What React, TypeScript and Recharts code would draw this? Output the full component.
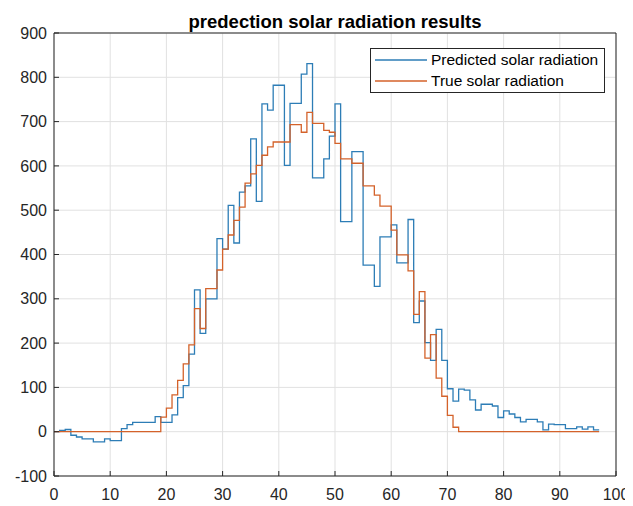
import { LineChart, Line, XAxis, YAxis, CartesianGrid, Legend } from 'recharts';

// hourly slots (index = slot number)
const predicted = [
  0, 3, 5, -8, -12, -16, -16, -23, -23, -16,
  -20, -20, 7, 16, 21, 21, 21, 21, 34, 21,
  21, 38, 77, 104, 175, 320, 222, 300, 300, 436,
  412, 511, 426, 541, 555, 661, 520, 740, 726, 782,
  782, 601, 741, 741, 807, 831, 573, 573, 616, 667,
  740, 474, 474, 632, 632, 376, 376, 328, 440, 440,
  467, 381, 381, 479, 246, 295, 201, 161, 231, 161,
  97, 69, 96, 94, 72, 49, 62, 62, 58, 32,
  47, 40, 32, 22, 28, 28, 22, 4, 17, 16,
  16, 7, 7, 11, 6, 11, 4, 4,
];

const actual = [
  0, 0, 0, 0, 0, 0, 0, 0, 0, 0,
  0, 0, 0, 0, 0, 0, 0, 0, 0, 33,
  53, 83, 116, 153, 196, 278, 233, 323, 323, 365,
  412, 444, 477, 507, 561, 582, 601, 624, 643, 654,
  654, 654, 693, 693, 676, 721, 696, 696, 680, 676,
  651, 616, 616, 606, 606, 555, 555, 534, 509, 509,
  455, 399, 399, 363, 265, 316, 166, 219, 121, 80,
  37, 10, 0, 0, 0, 0, 0, 0, 0, 0,
  0, 0, 0, 0, 0, 0, 0, 0, 0, 0,
  0, 0, 0, 0, 0, 0, 0, 0,
];

const xTicks = [0, 10, 20, 30, 40, 50, 60, 70, 80, 90, 100];
const yTicks = [-100, 0, 100, 200, 300, 400, 500, 600, 700, 800, 900];

const BLUE = '#2d7db6';
const ORANGE = '#d4622a';
const AXIS = '#262626';
const FONT = '"Liberation Sans", Arial, sans-serif';

const data = predicted.map((p, i) => ({ x: i, predicted: p, actual: actual[i] }));

const tickStyle = { fontSize: 16, fill: AXIS, fontFamily: FONT };

function LegendBox() {
  const rows = [
    { label: 'Predicted solar radiation', color: BLUE, top: 1 },
    { label: 'True solar radiation', color: ORANGE, top: 22 },
  ];
  return (
    <div
      style={{
        position: 'relative',
        width: 235,
        height: 45,
        boxSizing: 'border-box',
        border: `1px solid ${AXIS}`,
        background: '#fff',
        fontFamily: FONT,
        fontSize: 15.5,
        color: '#000',
      }}
    >
      {rows.map((r) => (
        <div
          key={r.label}
          style={{ position: 'absolute', left: 4, top: r.top, height: 20, display: 'flex', alignItems: 'center', whiteSpace: 'nowrap' }}
        >
          <svg width={52} height={20} style={{ marginRight: 4 }}>
            <line x1={0} y1={10} x2={52} y2={10} stroke={r.color} strokeWidth={1.3} />
          </svg>
          <span>{r.label}</span>
        </div>
      ))}
    </div>
  );
}

export default function App() {
  return (
    <div style={{ position: 'relative', width: 625, height: 498, fontFamily: FONT }}>
      <div
        style={{
          position: 'absolute',
          left: 327,
          top: 5,
          transform: 'translateX(-50%)',
          whiteSpace: 'nowrap',
          fontSize: 18.5,
          fontWeight: 'bold',
          lineHeight: 1,
          color: '#000',
        }}
      >
        predection solar radiation results
      </div>
      <LineChart width={625} height={498} data={data} margin={{ top: 24, right: 16, left: 0, bottom: 0 }}>
        <CartesianGrid stroke="#e1e1e1" />
        <XAxis
          dataKey="x"
          type="number"
          domain={[0, 100]}
          ticks={xTicks}
          interval={0}
          height={30}
          tickSize={-5}
          tickMargin={18}
          tick={tickStyle}
          stroke={AXIS}
          allowDataOverflow
        />
        <XAxis
          xAxisId="top"
          orientation="top"
          type="number"
          domain={[0, 100]}
          ticks={xTicks}
          height={1}
          tickSize={-5}
          tick={false}
          stroke={AXIS}
          allowDataOverflow
        />
        <YAxis
          type="number"
          domain={[-100, 900]}
          ticks={yTicks}
          interval={0}
          width={46}
          tickSize={-5}
          tickMargin={12}
          tick={tickStyle}
          stroke={AXIS}
          allowDataOverflow
        />
        <YAxis
          yAxisId="right"
          orientation="right"
          type="number"
          domain={[-100, 900]}
          ticks={yTicks}
          width={1}
          tickSize={-5}
          tick={false}
          stroke={AXIS}
          allowDataOverflow
        />
        <Legend
          layout="horizontal"
          verticalAlign="middle"
          align="center"
          wrapperStyle={{ left: 362, top: 40, width: 235, height: 45 }}
          content={() => <LegendBox />}
        />
        <Line
          type="stepAfter"
          dataKey="predicted"
          stroke={BLUE}
          strokeWidth={1.3}
          dot={false}
          isAnimationActive={false}
        />
        <Line
          type="stepAfter"
          dataKey="actual"
          stroke={ORANGE}
          strokeWidth={1.3}
          dot={false}
          isAnimationActive={false}
        />
      </LineChart>
    </div>
  );
}
